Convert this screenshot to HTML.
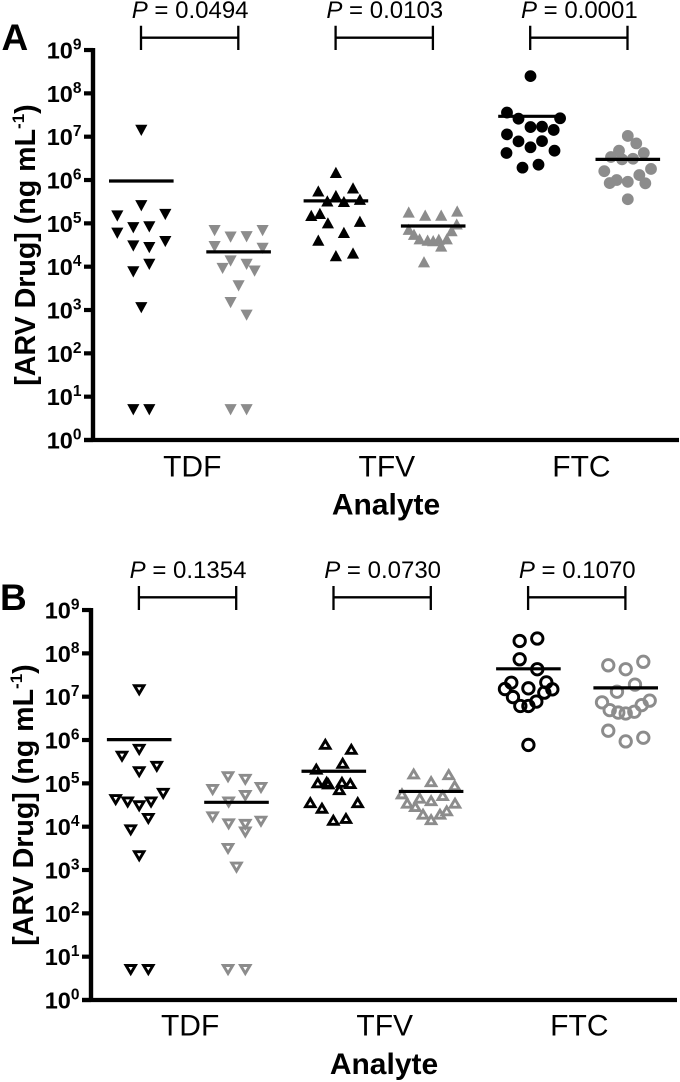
<!DOCTYPE html>
<html lang="en">
<head>
<meta charset="utf-8">
<title>ARV drug concentration by analyte</title>
<style>
  html, body { margin: 0; padding: 0; background: #fff; }
  svg { display: block; font-family: "Liberation Sans", Arial, sans-serif; }
</style>
</head>
<body>
<svg id="figure" width="680" height="1082" viewBox="0 0 680 1082" xmlns="http://www.w3.org/2000/svg"></svg>
<script>
// ---------- shared labels ----------
const categories = ["TDF", "TFV", "FTC"];
const tickExponents = [0, 1, 2, 3, 4, 5, 6, 7, 8, 9];
const seriesNames = ["tdf-black", "tdf-grey", "tfv-black", "tfv-grey", "ftc-black", "ftc-grey"];
const pValuesA = ["0.0494", "0.0103", "0.0001"];
const pValuesB = ["0.1354", "0.0730", "0.1070"];

// ---------- panel A: concentrations (ng/mL) ----------
const aTdfBlack = [1.4e7, 2.55e5, 1.48e5, 1.6e5, 7.9e4, 8.3e4, 5.9e4, 3.8e4, 3.0e4, 2.75e4, 1.13e4, 7.6e3, 1.13e3, 5, 5];
const aTdfGrey = [6.8e4, 6.8e4, 4.8e4, 4.9e4, 2.9e4, 2.65e4, 1.35e4, 1.13e4, 9.1e3, 7.9e3, 3.6e3, 1.48e3, 7.6e2, 5, 5];
const aTfvBlack = [1.5e6, 5.6e5, 6.6e5, 4.4e5, 3.3e5, 3.2e5, 3.6e5, 1.53e5, 1.7e5, 1.03e5, 1.12e5, 6.2e4, 4.1e4, 1.8e4, 2.07e4];
const aTfvGrey = [1.83e5, 1.55e5, 1.55e5, 1.93e5, 9.7e4, 7.3e4, 6.8e4, 5.6e4, 4.4e4, 4.4e4, 4.3e4, 4.1e4, 4.0e4, 3.0e4, 1.3e4];
const aFtcBlack = [2.5e8, 3.6e7, 2.6e7, 2.66e7, 1.67e7, 1.7e7, 1.43e7, 1.13e7, 7.8e6, 7.9e6, 5.7e6, 4.2e6, 4.75e6, 1.93e6, 2.26e6];
const aFtcGrey = [1.04e7, 7.0e6, 4.75e6, 4.2e6, 3.4e6, 3.1e6, 3.0e6, 1.6e6, 1.8e6, 1.3e6, 1.0e6, 9.1e5, 8.5e5, 8.4e5, 3.6e5];
const aMeans = [9.5e5, 2.2e4, 3.3e5, 8.7e4, 2.95e7, 3.0e6];

// swarm columns of panel A (bee-swarm slot for each sample)
const aTdfBlackSlot = [0, 0, -3, 3, -1, 1, -3, 3, -1, 1, 1, -1, 0, -1, 1];
const aTdfGreySlot = [-3, 3, -1, 1, -3, 3, -1, 1, -2, 2, 0, -1, 1, -1, 1];
const aTfvBlackSlot = [0, -2.2, 2.14, 0, -1.07, 1, 3, -3.08, -2, -1, 3, 1, -2.2, 0, 2.14];
const aTfvGreySlot = [-3.06, -1, 1, 3, 2.94, -3.06, 2.3, -2.4, 1.7, -1.7, 0.7, -0.7, 0, 1, -1.15];
const aFtcBlackSlot = [0, -2.94, -1.5, 3.7, 0, 1.44, 2.9, -2.94, -1.5, 1.44, 0, -3, 3, -1, 1];
const aFtcGreySlot = [0, 1.06, -1.1, 2, -2.1, 0.65, -0.72, -2.94, 2.9, 1.44, -1.39, 0, -2.26, 2.19, 0];

// ---------- panel B: concentrations (ng/mL) ----------
const bTdfBlack = [1.4e7, 5.9e5, 4.1e5, 2.4e5, 1.8e5, 5.7e4, 4.1e4, 3.6e4, 3.6e4, 2.95e4, 1.5e4, 8.2e3, 2.07e3, 4.9, 4.9];
const bTdfGrey = [1.38e5, 1.2e5, 7.8e4, 7.0e4, 5.1e4, 3.6e4, 1.64e4, 1.3e4, 1.13e4, 1.1e4, 7.3e3, 3.05e3, 1.13e3, 4.9, 4.9];
const bTfvBlack = [8.2e5, 6.3e5, 3.0e5, 2.2e5, 1.06e5, 1.09e5, 1.0e5, 1.09e5, 1.02e5, 7.4e4, 3.7e4, 3.7e4, 2.75e4, 1.45e4, 1.6e4];
const bTfvGrey = [1.7e5, 1.64e5, 1.13e5, 9.1e4, 5.9e4, 5.4e4, 4.7e4, 4.1e4, 3.6e4, 3.6e4, 3.0e4, 2.4e4, 2.0e4, 2.0e4, 1.5e4];
const bFtcBlack = [2.2e8, 1.93e8, 7.3e7, 4.3e7, 2.1e7, 2.14e7, 1.56e7, 1.5e7, 1.48e7, 1.24e7, 9.8e6, 7.7e6, 6.1e6, 6.1e6, 7.7e5];
const bFtcGrey = [6.4e7, 5.3e7, 4.3e7, 1.9e7, 1.3e7, 8.1e6, 7.4e6, 6.4e6, 4.9e6, 4.5e6, 4.3e6, 4.1e6, 1.64e6, 1.13e6, 9.3e5];
const bMeans = [1.02e6, 3.65e4, 1.9e5, 6.5e4, 4.4e7, 1.6e7];

// swarm columns of panel B
const bTdfBlackSlot = [0, 0, -2.15, 2.2, 0, 3, -2.94, -1.44, 1.48, 0, 1.14, -1.06, 0, -1.06, 1.14];
const bTdfGreySlot = [-1.06, 1.1, 3.06, -2.98, 1.1, -0.98, -2.98, 3.06, -0.98, 1.1, 1.1, -1.06, 0, -1.06, 1.1];
const bTfvBlackSlot = [-1.06, 2.19, 1.11, -2.19, -2, -0.89, -0.69, 1.02, 2.06, 0.69, -2.94, 2.99, -1.48, -0.06, 1.52];
const bTfvGreySlot = [-2.18, 2.2, 0, 2.95, -3.64, 1.45, -1.43, 0, 2.99, -2.98, -1.98, 1.95, -1.01, 1.11, 0];
const bFtcBlackSlot = [1.11, -1.09, -1.09, 1.11, -2.14, 2.24, 0, -2.93, 2.99, 1.99, -1.93, 0.99, 0, -1.01, 0];
const bFtcGreySlot = [2.2, -2.18, 0, 1.16, -1.09, 3, -2.96, 2, -2, 1.08, -0.93, 0, -2.18, 2.2, 0];

const GREY = "#8c8c8c";
const SVGNS = "http://www.w3.org/2000/svg";
const root = document.getElementById("figure");

function make(tag, attrs, parent) {
  const el = document.createElementNS(SVGNS, tag);
  for (const k in attrs) el.setAttribute(k, attrs[k]);
  parent.appendChild(el);
  return el;
}

function marker(shape, filled, cx, cy, color, parent) {
  if (shape === "circle") {
    return make("circle", filled
      ? { cx: cx, cy: cy, r: 5.9, fill: color }
      : { cx: cx, cy: cy, r: 5.7, fill: "none", stroke: color, "stroke-width": 2.9 }, parent);
  }
  const dir = shape === "down" ? 1 : -1;
  let hw, a, b;
  if (filled) { hw = 6.1; a = 5.6; b = 5.6; } else { hw = 4.7; a = 4.6; b = 3.3; }
  const pts = [
    (cx - hw) + "," + (cy - dir * a),
    (cx + hw) + "," + (cy - dir * a),
    cx + "," + (cy + dir * b)
  ].join(" ");
  return make("polygon", filled
    ? { points: pts, fill: color }
    : { points: pts, fill: "none", stroke: color, "stroke-width": 2.9, "stroke-linejoin": "miter" }, parent);
}

function drawPanel(p) {
  const g = make("g", {}, root);
  
  

  const yScale = v => p.y0 - Math.log10(v) * p.decade;
  const xScale = (seriesIndex, slot) => p.x0 + seriesIndex * p.step + slot * 8;

  // panel letter
  const letter = make("text", { x: p.letterX, y: p.letterY, "font-size": 37, "font-weight": "bold", fill: "#000" }, g);
  letter.textContent = p.letter;
  
  

  // y-axis title
  const title = make("text", {
    transform: "translate(" + p.titleX + "," + p.titleY + ") rotate(-90)",
    "text-anchor": "middle", "font-size": 28.6, "font-weight": "bold", fill: "#000"
  }, g);
  const t1 = make("tspan", {}, title);
  t1.textContent = "[ARV Drug] (ng mL";
  const t2 = make("tspan", { dy: -11, "font-size": 17 }, title);
  t2.textContent = "-1";
  const t3 = make("tspan", { dy: 11 }, title);
  t3.textContent = ")";
  
  

  // axes
  const yAxis = make("line", { x1: p.axisX, x2: p.axisX, y1: yScale(1e9) - 2, y2: yScale(1) + 2, stroke: "#000", "stroke-width": 4.4 }, g);
  
  
  const xAxis = make("line", { x1: p.axisX - 9, x2: p.axisEnd, y1: yScale(1), y2: yScale(1), stroke: "#000", "stroke-width": 4.2 }, g);
  
  

  // y ticks and tick labels
  tickExponents.forEach(e => {
    const y = yScale(Math.pow(10, e));
    const tick = make("line", { x1: p.axisX - 9, x2: p.axisX, y1: y, y2: y, stroke: "#000", "stroke-width": 4.2 }, g);
    
    
    const label = make("text", { x: p.axisX - 11.5, y: y + 8.5, "text-anchor": "end", "font-size": 23.5, "font-weight": "bold", fill: "#000" }, g);
    const base = make("tspan", {}, label);
    base.textContent = "10";
    const sup = make("tspan", { dy: -9, "font-size": 15.5 }, label);
    sup.textContent = String(e);
    
    
  });

  // x category labels, axis title
  categories.forEach((c, i) => {
    const label = make("text", { x: xScale(i * 2 + 0.5, 0) + 2.3, y: p.catY, "text-anchor": "middle", "font-size": 30, fill: "#000" }, g);
    label.textContent = c;
    
    
  });
  const xTitle = make("text", { x: p.xTitleX, y: p.xTitleY, "text-anchor": "middle", "font-size": 30, "font-weight": "bold", fill: "#000" }, g);
  xTitle.textContent = "Analyte";
  
  

  // P-value brackets
  p.pValues.forEach((val, i) => {
    const x1 = xScale(i * 2, 0) - 0.3;
    const x2 = xScale(i * 2 + 1, 0) - 0.3;
    const bracket = make("path", {
      d: "M" + x1 + " " + p.brTop + "V" + p.brBottom + "M" + x2 + " " + p.brTop + "V" + p.brBottom +
         "M" + x1 + " " + p.brMid + "H" + x2,
      fill: "none", stroke: "#000", "stroke-width": 2.3
    }, g);
    
    
    const txt = make("text", { x: (x1 + x2) / 2 + 0.5, y: p.pY, "text-anchor": "middle", "font-size": 24, fill: "#000" }, g);
    const it = make("tspan", { "font-style": "italic" }, txt);
    it.textContent = "P";
    const rest = make("tspan", {}, txt);
    rest.textContent = " = " + val;
    
    
  });

  // series points
  p.series.forEach((values, s) => {
    const color = s % 2 === 0 ? "#000" : GREY;
    const shape = s < 2 ? "down" : s < 4 ? "up" : "circle";
    const group = make("g", {}, g);
    
    
    values.forEach((v, k) => {
      const m = marker(shape, p.filled, xScale(s, p.slots[s][k]), yScale(v), color, group);
      
      
    });
  });

  // mean lines (drawn over the points)
  p.means.forEach((v, s) => {
    const cx = xScale(s, 0);
    const line = make("line", { x1: cx - 32.3, x2: cx + 32.3, y1: yScale(v), y2: yScale(v), stroke: "#000", "stroke-width": 3.2 }, g);
    
    
  });
}

drawPanel({
  letter: "A", letterX: 1.5, letterY: 50, titleX: 35, titleY: 245,
  y0: 440, decade: 43.33, axisX: 93, axisEnd: 679, x0: 141.3, step: 97.3,
  catY: 476.7, xTitleX: 386, xTitleY: 514.3,
  brTop: 25.7, brMid: 37.7, brBottom: 50, pY: 18,
  filled: true, pValues: pValuesA, means: aMeans,
  series: [aTdfBlack, aTdfGrey, aTfvBlack, aTfvGrey, aFtcBlack, aFtcGrey],
  slots: [aTdfBlackSlot, aTdfGreySlot, aTfvBlackSlot, aTfvGreySlot, aFtcBlackSlot, aFtcGreySlot]
});

drawPanel({
  letter: "B", letterX: 0, letterY: 610, titleX: 33, titleY: 805,
  y0: 1000, decade: 43.33, axisX: 91, axisEnd: 677, x0: 139.2, step: 97.3,
  catY: 1035.5, xTitleX: 384, xTitleY: 1074,
  brTop: 586, brMid: 597.3, brBottom: 610, pY: 578,
  filled: false, pValues: pValuesB, means: bMeans,
  series: [bTdfBlack, bTdfGrey, bTfvBlack, bTfvGrey, bFtcBlack, bFtcGrey],
  slots: [bTdfBlackSlot, bTdfGreySlot, bTfvBlackSlot, bTfvGreySlot, bFtcBlackSlot, bFtcGreySlot]
});
</script>
</body>
</html>
